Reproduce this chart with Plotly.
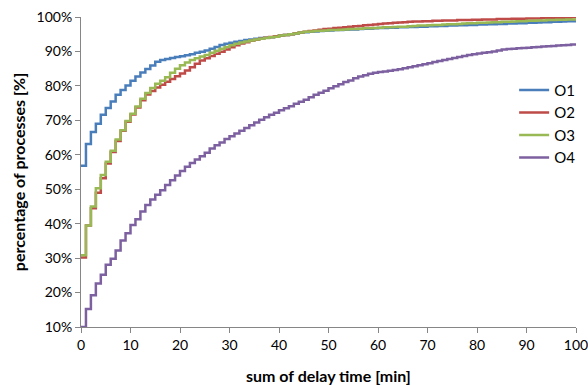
import plotly.graph_objects as go

minutes = list(range(0, 101))

o1 = [56.8, 63.1, 66.6, 69.0, 71.6, 73.6, 75.5, 77.4, 78.8, 80.1,
      81.5, 82.7, 83.9, 84.9, 85.9, 87.0, 87.5, 87.8, 88.1, 88.4,
      88.6, 88.9, 89.2, 89.6, 89.9, 90.3, 90.8, 91.3, 91.9, 92.2,
      92.5, 92.8, 93.0, 93.3, 93.5, 93.7, 93.9, 94.0, 94.1, 94.3,
      94.6, 94.8, 95.0, 95.2, 95.4, 95.6, 95.7, 95.8, 95.9, 96.0,
      96.1, 96.2, 96.2, 96.3, 96.4, 96.4, 96.5, 96.6, 96.6, 96.7,
      96.8, 96.8, 96.9, 96.9, 97.0, 97.0, 97.1, 97.1, 97.2, 97.2,
      97.3, 97.3, 97.4, 97.4, 97.5, 97.5, 97.6, 97.6, 97.7, 97.7,
      97.8, 97.8, 97.9, 97.9, 98.0, 98.0, 98.1, 98.1, 98.2, 98.2,
      98.3, 98.3, 98.4, 98.5, 98.5, 98.6, 98.6, 98.7, 98.8, 98.8, 98.9]

o2 = [30.2, 39.5, 44.5, 49.0, 53.2, 57.5, 60.8, 64.0, 67.0, 69.6,
      71.7, 73.7, 75.8, 77.5, 78.5, 79.5, 80.3, 81.2, 82.0, 82.8,
      83.6, 84.5, 85.4, 86.4, 87.4, 88.0, 88.7, 89.3, 89.9, 90.6,
      91.2, 91.8, 92.3, 92.7, 93.1, 93.4, 93.7, 94.0, 94.2, 94.4,
      94.6, 94.8, 95.0, 95.3, 95.5, 95.7, 95.9, 96.1, 96.3, 96.5,
      96.6, 96.8, 96.9, 97.0, 97.2, 97.3, 97.4, 97.6, 97.7, 97.8,
      98.0, 98.1, 98.2, 98.3, 98.4, 98.5, 98.6, 98.7, 98.7, 98.8,
      98.8, 98.9, 98.9, 99.0, 99.0, 99.0, 99.1, 99.1, 99.1, 99.2,
      99.2, 99.3, 99.3, 99.3, 99.4, 99.4, 99.4, 99.5, 99.5, 99.5,
      99.6, 99.6, 99.6, 99.7, 99.7, 99.7, 99.8, 99.8, 99.8, 99.9, 99.9]

o3 = [30.8, 39.5, 45.0, 50.3, 54.1, 58.0, 61.2, 64.4, 67.1, 69.8,
      71.9, 74.0, 76.3, 77.9, 79.4, 80.6, 81.5, 82.5, 83.8, 85.0,
      86.0, 86.8, 87.5, 88.0, 88.5, 89.0, 89.6, 90.2, 90.8, 91.3,
      91.8, 92.2, 92.6, 92.9, 93.2, 93.5, 93.7, 93.9, 94.1, 94.3,
      94.6, 94.8, 95.0, 95.2, 95.5, 95.7, 95.8, 95.9, 96.0, 96.1,
      96.2, 96.2, 96.3, 96.4, 96.5, 96.5, 96.6, 96.7, 96.7, 96.8,
      96.9, 97.0, 97.0, 97.1, 97.2, 97.2, 97.3, 97.4, 97.5, 97.5,
      97.6, 97.7, 97.7, 97.8, 97.9, 97.9, 98.0, 98.1, 98.2, 98.2,
      98.3, 98.3, 98.4, 98.5, 98.5, 98.6, 98.6, 98.7, 98.8, 98.8,
      98.9, 98.9, 99.0, 99.0, 99.1, 99.1, 99.2, 99.2, 99.3, 99.3, 99.4]

o4 = [10.0, 15.2, 19.2, 22.6, 25.2, 28.1, 29.8, 32.2, 35.1, 37.2,
      39.6, 41.3, 43.5, 45.4, 47.0, 48.4, 49.7, 51.2, 52.6, 54.0,
      55.3, 56.5, 57.6, 58.6, 59.6, 60.6, 61.8, 62.8, 63.6, 64.6,
      65.4, 66.2, 67.0, 67.8, 68.6, 69.4, 70.2, 70.9, 71.6, 72.2,
      72.9, 73.5, 74.1, 74.8, 75.4, 76.0, 76.7, 77.4, 78.0, 78.6,
      79.3, 79.9, 80.5, 81.1, 81.6, 82.2, 82.7, 83.1, 83.5, 83.8,
      84.0, 84.2, 84.4, 84.6, 84.8, 85.1, 85.4, 85.7, 86.0, 86.3,
      86.6, 86.9, 87.2, 87.5, 87.8, 88.1, 88.4, 88.7, 89.0, 89.2,
      89.4, 89.6, 89.8, 90.0, 90.3, 90.6, 90.7, 90.8, 90.9, 91.0,
      91.1, 91.2, 91.3, 91.4, 91.5, 91.6, 91.7, 91.8, 91.9, 92.0, 92.1]

series_names = ["O1", "O2", "O3", "O4"]
series_values = [o1, o2, o3, o4]
colors = ["#4a7ebb", "#be4b48", "#98b954", "#7d60a0"]

x_ticks = list(range(0, 101, 10))
y_ticks = list(range(10, 101, 10))
y_tick_labels = [f"{v}%" for v in y_ticks]

fig = go.Figure()
for name, vals, col in zip(series_names, series_values, colors):
    fig.add_trace(go.Scatter(
        x=minutes, y=vals, name=name, mode="lines",
        line=dict(color=col, width=2.5, shape="hv"),
    ))

font_family = "Lato, 'Open Sans', sans-serif"
fig.update_layout(
    width=588, height=385,
    margin=dict(l=81, r=12, t=17, b=58, autoexpand=False),
    paper_bgcolor="white", plot_bgcolor="white",
    font=dict(family=font_family, size=14, color="#000000"),
    showlegend=True,
    legend=dict(x=0.875, y=0.817, xanchor="left", yanchor="top",
                bgcolor="rgba(0,0,0,0)", font=dict(size=15, color="#000000"),
                itemwidth=30, tracegroupgap=0),
    xaxis=dict(
        range=[0, 100], tickvals=x_ticks, showgrid=False, zeroline=False,
        showline=True, linecolor="#868686", linewidth=1, automargin=False,
        ticks="outside", ticklen=5, tickcolor="#868686",
        ticklabeloverflow="allow",
        tickfont=dict(size=14, color="#000000"),
    ),
    yaxis=dict(
        range=[10, 100], tickvals=y_ticks, ticktext=y_tick_labels, showgrid=False,
        zeroline=False, showline=True, linecolor="#868686", linewidth=1,
        automargin=False, ticklabeloverflow="allow",
        ticks="outside", ticklen=5, tickcolor="#868686",
        tickfont=dict(size=14, color="#000000"),
    ),
    annotations=[
        dict(text="<b>sum of delay time [min]</b>", xref="paper", yref="paper",
             x=0.5, y=-0.155, xanchor="center", yanchor="middle",
             showarrow=False, font=dict(size=16, color="#000000")),
        dict(text="<b>percentage of processes [%]</b>", xref="paper", yref="paper",
             x=-0.127, y=0.5, xanchor="center", yanchor="middle", textangle=-90,
             showarrow=False, font=dict(size=16, color="#000000")),
    ],
)

fig.write_html(
    "out.html",
    config={"displayModeBar": False},
    post_script="document.body.style.margin='0';document.body.style.padding='0';document.body.style.overflow='hidden';",
)
